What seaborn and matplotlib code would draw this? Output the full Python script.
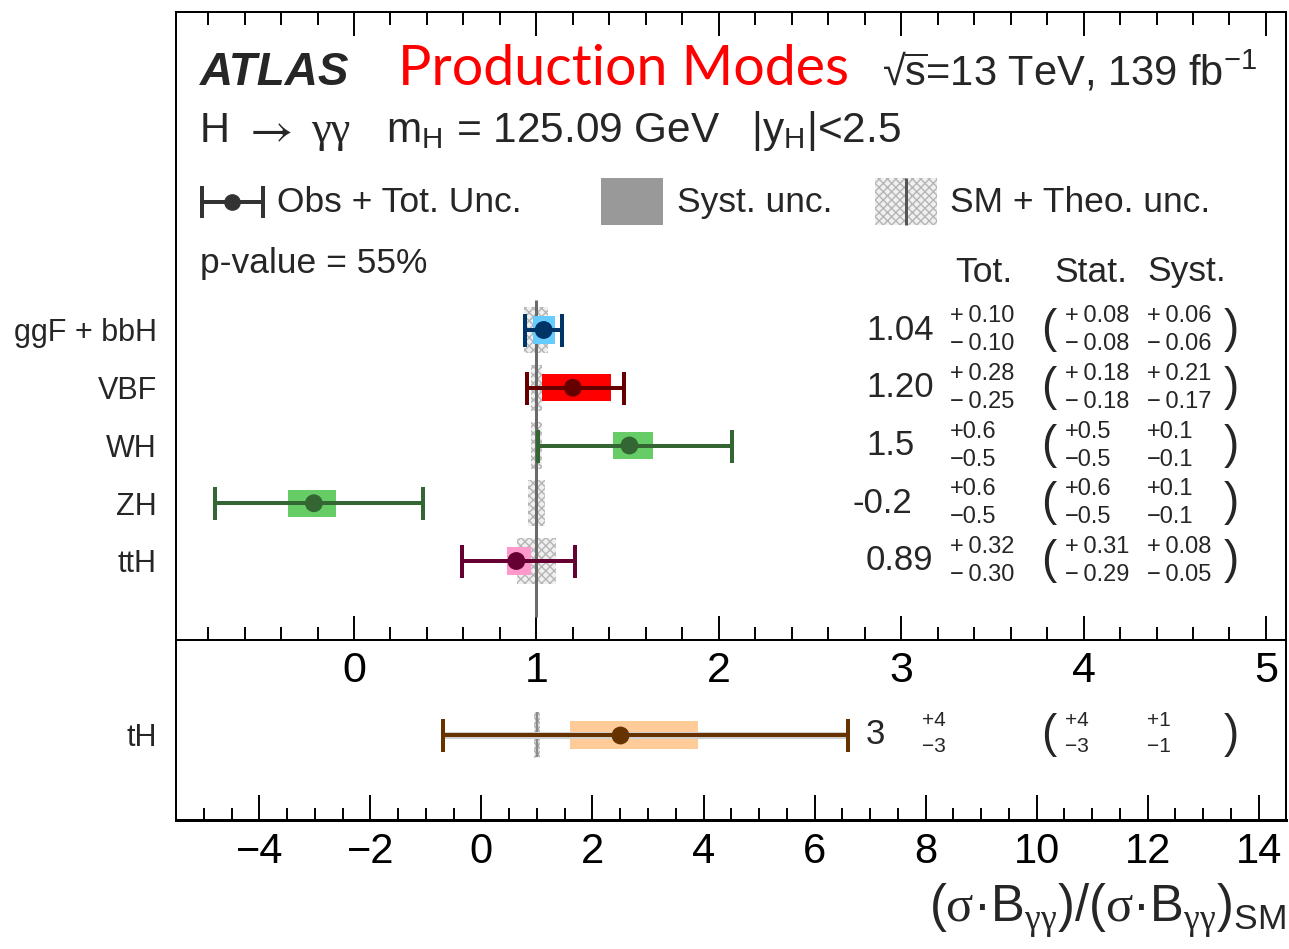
import matplotlib
matplotlib.use("Agg")
import numpy as np
import pandas as pd
import seaborn as sns
import matplotlib.pyplot as plt
from matplotlib.transforms import blended_transform_factory
from decimal import Decimal, ROUND_HALF_UP

# ---------------- data ----------------
processes = ["ggF + bbH", "VBF", "WH", "ZH", "ttH"]
mu = [1.04, 1.20, 1.51, -0.22, 0.89]
tot_up = [0.10, 0.28, 0.56, 0.60, 0.32]
tot_dn = [0.10, 0.25, 0.50, 0.54, 0.30]
stat_up = [0.08, 0.18, 0.54, 0.59, 0.31]
stat_dn = [0.08, 0.18, 0.50, 0.52, 0.29]
syst_up = [0.06, 0.21, 0.13, 0.12, 0.08]
syst_dn = [0.06, 0.17, 0.09, 0.14, 0.05]
sm_theo = [0.066, 0.03, 0.03, 0.045, 0.105]
decimals = [2, 2, 1, 1, 2]
bar_colors = ["#003366", "#660000", "#336633", "#336633", "#660033"]
box_colors = ["#66ccff", "#ff0000", "#66cc66", "#66cc66", "#ff99cc"]

th_process = ["tH"]
th_mu = [2.5]
th_tot_up = [4.1]
th_tot_dn = [3.2]
th_stat_up = [3.9]
th_stat_dn = [3.1]
th_syst_up = [1.4]
th_syst_dn = [0.9]
th_sm_theo = [0.06]
th_decimals = [0]
th_bar_color = ["#663300"]
th_box_color = ["#ffcc99"]

SM_VALUE = 1.0
top_ticks = [0, 1, 2, 3, 4, 5]
bottom_ticks = [-4, -2, 0, 2, 4, 6, 8, 10, 12, 14]

# ---------------- style ----------------
sns.set_theme(style="ticks")
plt.rcParams["font.family"] = ["Liberation Sans", "DejaVu Sans"]
plt.rcParams.update({
    "mathtext.fontset": "custom",
    "mathtext.rm": "Liberation Sans",
    "mathtext.it": "Liberation Sans:italic",
    "mathtext.bf": "Liberation Sans:bold",
    "mathtext.sf": "Liberation Serif",
    "mathtext.fallback": "stix",
    "hatch.linewidth": 1.0,
    "hatch.color": "#b5b5b5",
    "axes.unicode_minus": True,
})

W, H = 1289, 949
fig = plt.figure(figsize=(W / 100, H / 100), dpi=100)
PT = 72 / 100  # points per pixel


def fmt(v, d):
    q = Decimal(1) if d == 0 else Decimal(10) ** -d
    return str(Decimal(str(v)).quantize(q, rounding=ROUND_HALF_UP))


def fx(px):
    return px / W


def fy(py):
    return 1 - py / H


L, R = 176, 1286
axb = fig.add_axes([fx(L), fy(820), fx(R) - fx(L), fy(640) - fy(820)], zorder=1)
ax = fig.add_axes([fx(L), fy(640), fx(R) - fx(L), fy(12) - fy(640)], zorder=2)
ov = fig.add_axes([0, 0, 1, 1], zorder=10)
ov.set_xlim(0, W)
ov.set_ylim(H, 0)
ov.axis("off")
ov.patch.set_visible(False)

ROW_PX = 57.75
rows = np.arange(len(processes))
df = pd.DataFrame({"process": processes, "mu": mu, "row": rows})
dfb = pd.DataFrame({"process": th_process, "mu": th_mu, "row": [0]})

# ---------------- top panel ----------------
ax.set_xlim(-0.976, 5.11)
ax.set_ylim((640 - 330) / ROW_PX, -(330 - 12) / ROW_PX)

# SM expectation bands (theory uncertainty)
ax.barh(rows, width=2 * np.array(sm_theo), left=SM_VALUE - np.array(sm_theo),
        height=0.8, color="#f0f0f0", hatch="xxxx", edgecolor="#b5b5b5",
        linewidth=0, zorder=1)
ax.vlines(SM_VALUE, -0.52, 4.97, color="#6a6a6a", lw=3 * PT, zorder=2)

# systematic boxes
ax.barh(rows, width=np.array(syst_up) + np.array(syst_dn),
        left=np.array(mu) - np.array(syst_dn), height=0.47,
        color=box_colors, linewidth=0, zorder=3)

# total uncertainty bars
for i in rows:
    ax.errorbar(mu[i], i, xerr=[[tot_dn[i]], [tot_up[i]]], fmt="none",
                ecolor=bar_colors[i], elinewidth=4 * PT, capsize=16.5 * PT,
                capthick=4 * PT, zorder=4)
sns.scatterplot(data=df, x="mu", y="row", hue="process",
                palette=dict(zip(processes, bar_colors)), s=165,
                linewidth=0, legend=False, zorder=5, ax=ax)

ax.set_xticks(top_ticks)
ax.set_xticks(np.arange(-0.8, 5.11, 0.2), minor=True)
ax.set_xticklabels([str(t) for t in top_ticks])
ax.set_yticks(rows)
ax.set_yticklabels(processes, fontsize=22)
ax.tick_params(axis="x", which="both", direction="in", top=True, bottom=True,
               width=1.4, labelsize=31, pad=11 * PT, colors="black")
ax.tick_params(axis="x", which="major", length=24 * PT)
ax.tick_params(axis="x", which="minor", length=13 * PT)
ax.tick_params(axis="y", length=0, pad=19 * PT)
ax.set_xlabel("")
ax.set_ylabel("")

# ---------------- bottom panel ----------------
axb.set_xlim(-5.5, 14.49)
axb.set_ylim((820 - 735) / ROW_PX, -(735 - 640) / ROW_PX)
axb.barh([0], width=2 * np.array(th_sm_theo), left=SM_VALUE - np.array(th_sm_theo),
         height=0.78, color="#f0f0f0", hatch="xxxx", edgecolor="#b5b5b5",
         linewidth=0, zorder=1)
axb.vlines(SM_VALUE, -0.4, 0.38, color="#8a8a8a", lw=2.5 * PT, zorder=2)
axb.barh([0], width=np.array(th_syst_up) + np.array(th_syst_dn),
         left=np.array(th_mu) - np.array(th_syst_dn), height=0.47,
         color=th_box_color, linewidth=0, zorder=3)
axb.hlines(0, th_mu[0] - th_tot_dn[0], th_mu[0] + th_tot_up[0],
           color="#d0d0d0", lw=7 * PT, zorder=3.5)
axb.errorbar(th_mu[0], 0, xerr=[[th_tot_dn[0]], [th_tot_up[0]]], fmt="none",
             ecolor=th_bar_color[0], elinewidth=4 * PT, capsize=16.5 * PT,
             capthick=4 * PT, zorder=4)
sns.scatterplot(data=dfb, x="mu", y="row", color=th_bar_color[0], s=165,
                linewidth=0, legend=False, zorder=5, ax=axb)
axb.set_xticks(bottom_ticks)
axb.set_xticks(np.arange(-5.0, 14.5, 0.5), minor=True)
axb.set_xticklabels([f"{t}".replace("-", "\u2212") for t in bottom_ticks])
axb.set_yticks([0])
axb.set_yticklabels(th_process, fontsize=22)
axb.tick_params(axis="x", which="both", direction="in", top=False, bottom=True,
                width=1.4, labelsize=30, pad=12 * PT, colors="black")
axb.tick_params(axis="x", which="major", length=25 * PT)
axb.tick_params(axis="x", which="minor", length=12 * PT)
axb.tick_params(axis="y", length=0, pad=19 * PT)
axb.set_xlabel("")
axb.set_ylabel("")

for a in (ax, axb):
    for s in a.spines.values():
        s.set_visible(True)
        s.set_color("black")
        s.set_linewidth(2 * PT)
axb.spines["bottom"].set_linewidth(3 * PT)

# ---------------- header texts ----------------
ov.text(200, 85, "ATLAS", fontsize=33, fontweight="bold", fontstyle="italic",
        va="baseline", ha="left")
ov.text(398, 85, "Production Modes", fontsize=40, color="#ff0000",
        family=["Lato", "DejaVu Sans"], va="baseline", ha="left")
ov.text(882, 85, r"√$\overline{\mathrm{s}}$=13 TeV, 139 fb$^{\mathrm{-1}}$",
        fontsize=30, va="baseline", ha="left")

# decay channel and phase-space line
ov.text(200, 142, "H", fontsize=30, va="baseline", ha="left")
ov.text(243, 142, r"$\rightarrow$", fontsize=34, math_fontfamily="stix",
        va="baseline", ha="left")
ov.text(311, 142, "γγ", fontsize=32, family=["Liberation Serif", "DejaVu Serif"],
        va="baseline", ha="left")
ov.text(386, 142, r"m$_{\mathrm{H}}$ = 125.09 GeV", fontsize=30.5,
        va="baseline", ha="left")
ov.text(751, 142, r"|y$_{\mathrm{H}}$|<2.5", fontsize=30.5,
        va="baseline", ha="left")

# legend
LEG = 25.5
ov.hlines(202, 202, 263, color="#333333", lw=4 * PT)
ov.vlines([202, 263], 186, 218, color="#333333", lw=4 * PT)
ov.plot([232], [202], "o", color="#333333", ms=11)
ov.text(277, 202, "Obs + Tot. Unc.", fontsize=LEG, va="center", ha="left")
ov.add_patch(plt.Rectangle((601, 178), 62, 47, color="#999999", lw=0))
ov.text(677, 202, "Syst. unc.", fontsize=LEG, va="center", ha="left")
ov.add_patch(plt.Rectangle((875, 178), 62, 47, facecolor="#f0f0f0",
                           hatch="xxxx", edgecolor="#b5b5b5", lw=0))
ov.vlines(906, 178, 225, color="#555555", lw=3 * PT)
ov.text(950, 202, "SM + Theo. unc.", fontsize=LEG, va="center", ha="left")
ov.text(200, 263, "p-value = 55%", fontsize=LEG, va="center", ha="left")

ov.text(955, 272, "Tot.", fontsize=LEG, va="center", ha="left")
ov.text(1054, 272, "Stat.", fontsize=LEG, va="center", ha="left")
ov.text(1147, 272, "Syst.", fontsize=LEG, va="center", ha="left")

MINUS = "\u2212"


def pm(up, dn, d):
    sep = "\u2009" if d >= 2 else ""
    return "+" + sep + fmt(up, d), MINUS + sep + fmt(dn, d)


def value_block(axis, row, val, tu, td, su, sd, yu, yd, d, small, sub_off):
    tr = blended_transform_factory(ov.transData, axis.transData)
    dy = 14 / ROW_PX
    vx = 866 if val >= 0 else 852
    axis_text = dict(transform=tr, va="center", ha="left", zorder=10)
    ov.text(vx, row, fmt(val, d), fontsize=25, **axis_text)
    for x0, (u, l) in ((950 if d else 922, pm(tu, td, d)),
                       (1065, pm(su, sd, d)),
                       (1147, pm(yu, yd, d))):
        ov.text(x0, row - dy, u, fontsize=small, **axis_text)
        ov.text(x0, row + sub_off / ROW_PX, l, fontsize=small, **axis_text)
    ov.text(1041, row, "(", fontsize=33, **axis_text)
    ov.text(1224, row, ")", fontsize=33, **axis_text)


for i in rows:
    value_block(ax, i, mu[i], tot_up[i], tot_dn[i], stat_up[i], stat_dn[i],
                syst_up[i], syst_dn[i], decimals[i], 17, 14)
value_block(axb, 0, th_mu[0], th_tot_up[0], th_tot_dn[0], th_stat_up[0],
            th_stat_dn[0], th_syst_up[0], th_syst_dn[0], th_decimals[0], 15, 11)

# x-axis title
ov.text(1286, 922,
        r"$(\mathsf{\sigma}$·B$_{\mathsf{\gamma\gamma}})/(\mathsf{\sigma}$·B$_{\mathsf{\gamma\gamma}})_{\mathrm{SM}}$",
        fontsize=36.5, va="baseline", ha="right")

fig.savefig("out.png", dpi=100)
